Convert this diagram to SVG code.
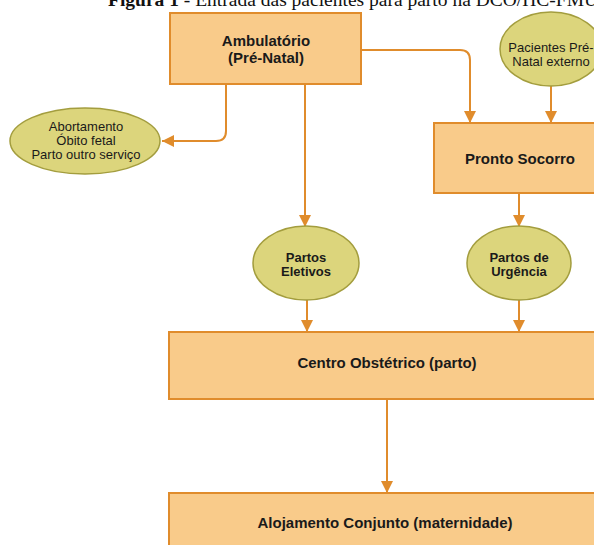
<svg xmlns="http://www.w3.org/2000/svg" width="594" height="545" viewBox="0 0 594 545">
<defs>
<style>
.box{fill:#F9CB8A;stroke:#E08C2C;stroke-width:2}
.ell{fill:#DCD57C;stroke:#A39D3E;stroke-width:1.5}
.lbl{font-family:"Liberation Sans",Arial,sans-serif;font-size:15px;font-weight:bold;fill:#1a1a1a;text-anchor:middle}
.sm{font-family:"Liberation Sans",Arial,sans-serif;font-size:13px;fill:#1a1a1a;text-anchor:middle}
.smb{font-family:"Liberation Sans",Arial,sans-serif;font-size:13px;font-weight:bold;fill:#1a1a1a;text-anchor:middle}
.con{fill:none;stroke:#E08C2C;stroke-width:2}
</style>
<marker id="ah" viewBox="0 0 10 10" refX="10" refY="5" markerWidth="6" markerHeight="6" markerUnits="strokeWidth" orient="auto">
<path d="M0,0 L10,5 L0,10 z" fill="#E08C2C"/>
</marker>
</defs>
<rect width="594" height="545" fill="#ffffff"/>
<text x="108" y="6" font-family="'Liberation Serif','Times New Roman',serif" font-size="19.5" fill="#111"><tspan font-weight="bold">Figura 1</tspan> - Entrada das pacientes para parto na DCO/HC-FMU</text>

<g id="connectors">
<path class="con" d="M226,84 V131 Q226,141 216,141 H162" marker-end="url(#ah)"/>
<path class="con" d="M305,84 V227" marker-end="url(#ah)"/>
<path class="con" d="M361,50 H460 Q470,50 470,60 V123" marker-end="url(#ah)"/>
<path class="con" d="M551,86 V123" marker-end="url(#ah)"/>
<path class="con" d="M519,193 V227" marker-end="url(#ah)"/>
<path class="con" d="M307,300 V332" marker-end="url(#ah)"/>
<path class="con" d="M519,300 V332" marker-end="url(#ah)"/>
<path class="con" d="M387,399 V493" marker-end="url(#ah)"/>
</g>

<g id="ambulatorio">
<rect class="box" x="170" y="13" width="191" height="71"/>
<text class="lbl" x="266" y="46">Ambulatório</text>
<text class="lbl" x="266" y="63">(Pré-Natal)</text>
</g>

<g id="pacientes-externo">
<ellipse class="ell" cx="551" cy="49" rx="51" ry="37"/>
<text class="sm" x="551" y="52">Pacientes Pré-</text>
<text class="sm" x="551" y="66">Natal externo</text>
</g>

<g id="abortamento">
<ellipse class="ell" cx="85" cy="141" rx="75" ry="33"/>
<text class="sm" x="86" y="131">Abortamento</text>
<text class="sm" x="86" y="145">Óbito fetal</text>
<text class="sm" x="86" y="159">Parto outro serviço</text>
</g>

<g id="pronto-socorro">
<rect class="box" x="434" y="123" width="172" height="70"/>
<text class="lbl" x="520" y="164">Pronto Socorro</text>
</g>

<g id="partos-eletivos">
<ellipse class="ell" cx="306" cy="263" rx="53" ry="37"/>
<text class="smb" x="306" y="262">Partos</text>
<text class="smb" x="306" y="276">Eletivos</text>
</g>

<g id="partos-urgencia">
<ellipse class="ell" cx="519" cy="263" rx="52" ry="37"/>
<text class="smb" x="519" y="262">Partos de</text>
<text class="smb" x="519" y="276">Urgência</text>
</g>

<g id="centro-obstetrico">
<rect class="box" x="169" y="332" width="436" height="67"/>
<text class="lbl" x="387" y="368">Centro Obstétrico (parto)</text>
</g>

<g id="alojamento">
<rect class="box" x="169" y="493" width="436" height="60"/>
<text class="lbl" x="385" y="528">Alojamento Conjunto (maternidade)</text>
</g>
</svg>
